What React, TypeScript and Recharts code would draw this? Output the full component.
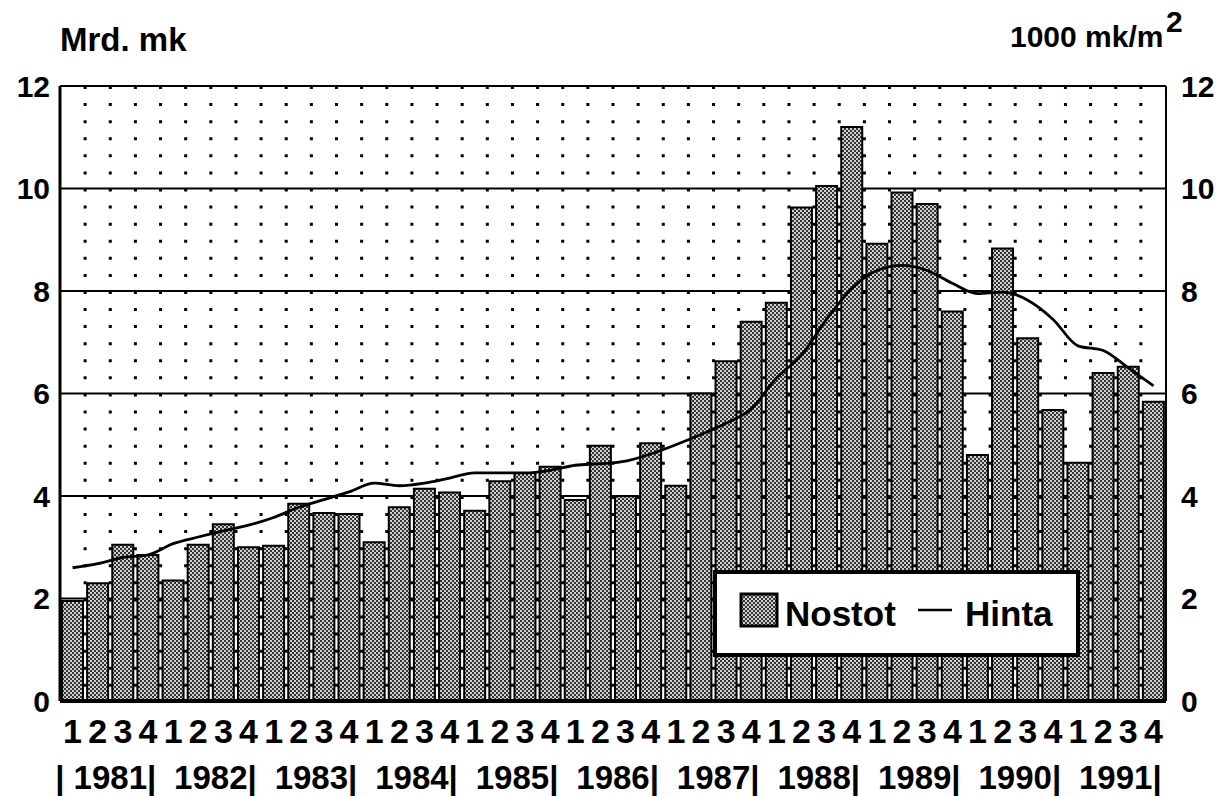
import { ComposedChart, Bar, Line, XAxis, YAxis, CartesianGrid, Legend } from "recharts";

const years = ["1981", "1982", "1983", "1984", "1985", "1986", "1987", "1988", "1989", "1990", "1991"];
const quarters = ["1", "2", "3", "4"];

// Nostot, Mrd. mk (left axis)
const nostot = [
  1.95, 2.3, 3.05, 2.85,
  2.35, 3.05, 3.45, 3.0,
  3.03, 3.85, 3.67, 3.65,
  3.1, 3.78, 4.14, 4.07,
  3.71, 4.29, 4.45, 4.57,
  3.92, 4.98, 4.0, 5.03,
  4.2, 6.0, 6.63, 7.4,
  7.77, 9.63, 10.05, 11.2,
  8.92, 9.92, 9.7, 7.6,
  4.8, 8.83, 7.08, 5.68,
  4.65, 6.4, 6.52, 5.84,
];

// Hinta, 1000 mk/m2 (right axis)
const hinta = [
  2.6, 2.68, 2.8, 2.85,
  3.07, 3.2, 3.32, 3.43,
  3.58, 3.78, 3.93, 4.08,
  4.25, 4.2, 4.25, 4.35,
  4.45, 4.45, 4.45, 4.5,
  4.6, 4.63, 4.68, 4.82,
  5.0, 5.2, 5.42, 5.7,
  6.3, 6.75, 7.45, 8.05,
  8.4, 8.5, 8.4, 8.15,
  7.95, 7.98, 7.82, 7.45,
  6.93, 6.84, 6.5, 6.15,
];

const yTicks = [0, 2, 4, 6, 8, 10, 12];

const data = nostot.map((v, i) => ({
  key: `${years[Math.floor(i / 4)]}-${quarters[i % 4]}`,
  year: years[Math.floor(i / 4)],
  quarter: quarters[i % 4],
  nostot: v,
  hinta: hinta[i],
}));

const W = 1222;
const H = 797;
const LEFT_W = 60;
const RIGHT_W = 56;
const XAXIS_H = 96;
const BAND = (W - LEFT_W - RIGHT_W) / data.length;
const FONT = "'Liberation Sans', Arial, Helvetica, sans-serif";

const QuarterTick = (props: any) => {
  const { x, y } = props;
  const index = props.index ?? props.payload?.index ?? 0;
  const d = data[index];
  const first = index === 1;
  return (
    <g>
      <text x={x} y={y + 42} textAnchor="middle" fontSize={34} fontWeight="bold" fill="#000" fontFamily={FONT}>
        {d.quarter}
      </text>
      {d.quarter === "2" && (
        <text
          x={x + BAND / 2 - 36.7 - (first ? 18.4 : 0)}
          y={y + 88}
          textAnchor="start"
          fontSize={33}
          fontWeight="bold"
          fill="#000"
          fontFamily={FONT}
        >
          {(first ? "| " : "") + d.year + "|"}
        </text>
      )}
    </g>
  );
};

const renderLegend = () => (
  <svg width={367} height={87} style={{ display: "block" }}>
    <rect x={2} y={2} width={363} height={83} fill="#fff" stroke="#000" strokeWidth={4} />
    <rect x={28} y={24} width={36} height={32} fill="url(#dither)" stroke="#000" strokeWidth={3} />
    <text x={72} y={56} fontSize={35} fontWeight="bold" fontFamily={FONT} fill="#000">Nostot</text>
    <line x1={205} y1={40} x2={239} y2={40} stroke="#000" strokeWidth={2.5} />
    <text x={252} y={56} fontSize={35} fontWeight="bold" fontFamily={FONT} fill="#000">Hinta</text>
  </svg>
);

const verticalDots = ({ offset }: any) =>
  data.slice(1).map((_, i) => offset.left + ((i + 1) * offset.width) / data.length);

export default function App() {
  const axisTick = { fontSize: 30, fontWeight: "bold", fill: "#000", fontFamily: FONT };
  return (
    <div style={{ position: "absolute", left: 0, top: 0, width: W, height: H, background: "#fff" }}>
      <ComposedChart
        width={W}
        height={H}
        data={data}
        margin={{ top: 86, right: 0, bottom: 0, left: 0 }}
        barCategoryGap={2}
      >
        <defs>
          <pattern id="dither" width={4} height={4} patternUnits="userSpaceOnUse">
            <rect width={4} height={4} fill="#d0d0d0" />
            <rect x={0} y={0} width={2} height={2} fill="#333" />
            <rect x={2} y={2} width={2} height={2} fill="#333" />
          </pattern>
        </defs>
        <CartesianGrid yAxisId="left" vertical={false} stroke="#000" strokeWidth={2} />
        <CartesianGrid
          yAxisId="left"
          horizontal={false}
          verticalCoordinatesGenerator={verticalDots}
          stroke="#000"
          strokeWidth={3}
          strokeDasharray="3 14.08"
        />
        <XAxis
          dataKey="key"
          height={XAXIS_H}
          interval={0}
          tickLine={false}
          tickSize={0}
          tickMargin={0}
          axisLine={{ stroke: "#000", strokeWidth: 4 }}
          tick={<QuarterTick />}
        />
        <YAxis
          yAxisId="left"
          width={LEFT_W}
          domain={[0, 12]}
          ticks={yTicks}
          tickLine={false}
          tickSize={0}
          tickMargin={10}
          axisLine={{ stroke: "#000", strokeWidth: 3 }}
          tick={axisTick}
        />
        <YAxis
          yAxisId="right"
          orientation="right"
          width={RIGHT_W}
          domain={[0, 12]}
          ticks={yTicks}
          tickLine={false}
          tickSize={0}
          tickMargin={15}
          axisLine={{ stroke: "#000", strokeWidth: 2 }}
          tick={axisTick}
        />
        <Bar
          yAxisId="left"
          dataKey="nostot"
          name="Nostot"
          fill="url(#dither)"
          stroke="#000"
          strokeWidth={2}
          isAnimationActive={false}
        />
        <Line
          yAxisId="right"
          dataKey="hinta"
          name="Hinta"
          type="monotone"
          stroke="#000"
          strokeWidth={2.8}
          dot={false}
          activeDot={false}
          isAnimationActive={false}
        />
        <Legend
          layout="horizontal"
          verticalAlign="middle"
          align="center"
          content={renderLegend}
          wrapperStyle={{ left: 713, top: 570, width: 367, height: 87 }}
        />
      </ComposedChart>
      <svg
        width={W}
        height={H}
        style={{ position: "absolute", left: 0, top: 0, pointerEvents: "none" }}
      >
        <text x={60} y={51} fontSize={33} fontWeight="bold" fontFamily={FONT} fill="#000">
          Mrd. mk
        </text>
        <text x={1010} y={47} fontSize={30} fontWeight="bold" fontFamily={FONT} fill="#000">
          1000 mk/m
        </text>
        <text x={1166} y={32} fontSize={30} fontWeight="bold" fontFamily={FONT} fill="#000">
          2
        </text>
      </svg>
    </div>
  );
}
